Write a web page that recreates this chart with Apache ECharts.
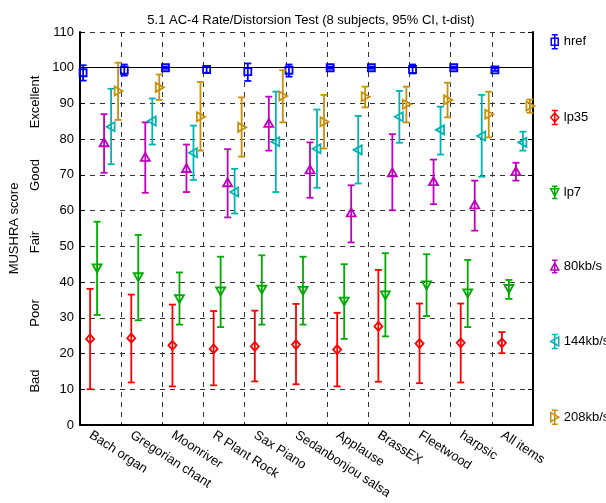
<!DOCTYPE html>
<html>
<head>
<meta charset="utf-8">
<script src="https://cdn.jsdelivr.net/npm/echarts@6/dist/echarts.min.js"></script>
<style>
  html, body { margin: 0; padding: 0; background: #fff; }
  #chart { width: 606px; height: 503px; }
</style>
</head>
<body>
<div id="chart"></div>
<script>
// categories
var categories = ['Bach organ', 'Gregorian chant', 'Moonriver', 'R Plant Rock', 'Sax Piano',
  'Sedanbonjou salsa', 'Applause', 'BrassEX', 'Fleetwood', 'harpsic', 'All items'];
var yTicks = [0, 110, 10];

// mean / lower / upper of the 95% CI per condition
var hrefMean = [98.6, 99.3, 100, 99.5, 98.9, 99.3, 100, 100, 99.5, 100, 99.4];
var hrefLow  = [96.4, 97.8, 99.7, 98.6, 96.3, 97.5, 99.7, 99.7, 98.4, 99.7, 99.1];
var hrefHigh = [100.7, 100.9, 100.3, 100.5, 101.2, 100.9, 100.3, 100.3, 100.9, 100.3, 99.8];

var lp35Mean = [24.1, 24.3, 22.3, 21.3, 22.0, 22.5, 21.1, 27.6, 22.8, 23.0, 23.0];
var lp35Low  = [10.0, 11.9, 10.8, 11.1, 12.2, 11.4, 10.8, 12.1, 11.7, 11.9, 20.1];
var lp35High = [38.1, 36.5, 33.7, 31.9, 32.0, 33.9, 31.4, 43.4, 34.0, 34.0, 26.0];

var lp7Mean = [44.0, 41.5, 35.4, 37.5, 38.0, 37.7, 34.7, 36.4, 39.2, 37.0, 38.2];
var lp7Low  = [30.8, 29.3, 28.1, 27.4, 28.1, 28.1, 24.1, 24.8, 30.5, 27.4, 35.3];
var lp7High = [56.9, 53.2, 42.7, 47.1, 47.5, 47.1, 45.0, 48.1, 47.8, 46.2, 40.6];

var k80Mean = [79.0, 74.9, 71.8, 67.8, 84.4, 71.4, 59.4, 70.6, 68.1, 61.6, 70.9];
var k80Low  = [70.6, 65.0, 65.2, 58.1, 76.8, 63.6, 51.1, 60.1, 61.8, 54.4, 68.4];
var k80High = [87.0, 84.7, 78.5, 77.2, 91.9, 79.1, 67.1, 81.4, 74.3, 68.4, 73.4];

var k144Mean = [83.5, 85.1, 76.2, 65.2, 79.3, 77.3, 77.0, 86.3, 82.6, 80.9, 79.1];
var k144Low  = [73.0, 78.5, 68.6, 59.2, 65.2, 66.4, 67.6, 79.0, 75.7, 69.5, 76.8];
var k144High = [94.1, 91.4, 83.8, 71.7, 93.3, 88.3, 86.5, 93.5, 89.1, 92.4, 82.1];

var k208Mean = [93.5, 94.5, 86.3, 83.3, 92.1, 84.9, 91.9, 89.8, 91.0, 87.0, 89.3];
var k208Low  = [85.4, 91.0, 76.8, 75.1, 84.7, 77.4, 88.9, 84.7, 86.1, 80.5, 87.4];
var k208High = [101.4, 98.1, 96.0, 91.7, 99.3, 92.4, 94.7, 94.7, 95.8, 93.3, 91.1];

var qualityLabels = ['Bad', 'Poor', 'Fair', 'Good', 'Excellent'];

var font = 'Liberation Sans, Arial, sans-serif';
var myChart = echarts.init(document.getElementById('chart'));

// marker outlines, pixel offsets around the mean point
function markerShape(kind, x, y) {
  if (kind === 'square') return { type: 'rect', shape: { x: x - 3.5, y: y - 3.5, width: 7, height: 7 } };
  var p;
  if (kind === 'diamond') p = [[0, -4.5], [4, 0], [0, 4.5], [-4, 0]];
  if (kind === 'down') p = [[-4.5, -3.5], [4.5, -3.5], [0, 4.5]];
  if (kind === 'up') p = [[-4.5, 3.5], [4.5, 3.5], [0, -4.5]];
  if (kind === 'left') p = [[-4.5, 0], [3.5, -4.5], [3.5, 4.5]];
  if (kind === 'right') p = [[4.5, 0], [-3.5, -4.5], [-3.5, 4.5]];
  return { type: 'polygon', shape: { points: p.map(function (q) { return [x + q[0], y + q[1]]; }) } };
}

function buildSeries(name, mean, low, high, color, kind, k) {
  var data = categories.map(function (c, i) { return [i, mean[i], low[i], high[i]]; });
  var offset = (k - 2.5) * 0.17;
  return {
    name: name,
    type: 'custom',
    itemStyle: { color: color },
    encode: { x: 0, y: [1, 2, 3] },
    data: data,
    renderItem: function (params, api) {
      var band = api.size([1, 0])[0];
      var x = api.coord([api.value(0), 0])[0] + offset * band;
      var ym = api.coord([api.value(0), api.value(1)])[1];
      var yl = api.coord([api.value(0), api.value(2)])[1];
      var yh = api.coord([api.value(0), api.value(3)])[1];
      var st = { stroke: color, lineWidth: 1.8, fill: 'none' };
      var m = markerShape(kind, x, ym);
      m.style = st;
      return {
        type: 'group',
        children: [
          { type: 'line', shape: { x1: x, y1: yl, x2: x, y2: yh }, style: st },
          { type: 'line', shape: { x1: x - 3.5, y1: yl, x2: x + 3.5, y2: yl }, style: st },
          { type: 'line', shape: { x1: x - 3.5, y1: yh, x2: x + 3.5, y2: yh }, style: st },
          m
        ]
      };
    }
  };
}

var colors = ['#0000ff', '#ff0000', '#00aa00', '#bf00bf', '#00b4b4', '#c8900a'];
var icons = [
  'path://M5,0L5,14M2,0L8,0M2,14L8,14M1.5,3.5L8.5,3.5L8.5,10.5L1.5,10.5Z',
  'path://M5,0L5,14M2,0L8,0M2,14L8,14M5,2.5L9,7L5,11.5L1,7Z',
  'path://M5,0L5,14M2,0L8,0M2,14L8,14M0.5,3L9.5,3L5,11Z',
  'path://M5,0L5,14M2,0L8,0M2,14L8,14M0.5,11L9.5,11L5,3Z',
  'path://M5,0L5,14M2,0L8,0M2,14L8,14M1,7L9,2.5L9,11.5Z',
  'path://M5,0L5,14M2,0L8,0M2,14L8,14M9,7L1,2.5L1,11.5Z'
];
var names = ['href', 'lp35', 'lp7', '80kb/s', '144kb/s', '208kb/s'];

var series = [
  buildSeries('href', hrefMean, hrefLow, hrefHigh, colors[0], 'square', 0),
  buildSeries('lp35', lp35Mean, lp35Low, lp35High, colors[1], 'diamond', 1),
  buildSeries('lp7', lp7Mean, lp7Low, lp7High, colors[2], 'down', 2),
  buildSeries('80kb/s', k80Mean, k80Low, k80High, colors[3], 'up', 3),
  buildSeries('144kb/s', k144Mean, k144Low, k144High, colors[4], 'left', 4),
  buildSeries('208kb/s', k208Mean, k208Low, k208High, colors[5], 'right', 5)
];
// solid reference line at 100
series[0].markLine = {
  silent: true, symbol: 'none', label: { show: false },
  lineStyle: { color: '#000', type: 'solid', width: 1 },
  data: [{ yAxis: 100 }]
};

var dashed = { color: '#333', type: [5, 5], width: 1 };

// quality words next to the score axis
var qualityY = [381, 313, 242, 175, 102];
var graphics = qualityLabels.map(function (t, i) {
  return {
    type: 'text', x: 35, y: qualityY[i], rotation: Math.PI / 2,
    style: { text: t, font: '13px ' + font, fill: '#000', align: 'center', verticalAlign: 'middle' }
  };
});

this.option = {
  animation: false,
  textStyle: { fontFamily: font },
  title: {
    text: '5.1 AC-4 Rate/Distorsion Test (8 subjects, 95% CI, t-dist)',
    left: 306, top: 9, textAlign: 'center',
    textStyle: { fontSize: 13, fontWeight: 'normal', color: '#000', fontFamily: font }
  },
  legend: {
    orient: 'vertical', left: 545, top: 29,
    itemWidth: 8, itemHeight: 14, itemGap: 60.2,
    textStyle: { fontSize: 13, color: '#000', fontFamily: font },
    data: names.map(function (n, i) {
      return { name: n, icon: icons[i], itemStyle: { color: 'rgba(0,0,0,0)', borderColor: colors[i], borderWidth: 1.5 } };
    })
  },
  grid: { left: 80, right: 73, top: 32, bottom: 78 },
  xAxis: [
    {
      type: 'category', data: categories, position: 'bottom',
      axisLine: { lineStyle: { color: '#000', width: 2 } },
      axisTick: { inside: true, length: 5, lineStyle: { color: '#000' } },
      splitLine: { show: true, lineStyle: dashed },
      axisLabel: {
        rotate: -33, fontSize: 13, color: '#000', margin: 8, interval: 0, fontFamily: font,
        verticalAlign: 'top', padding: [0, 0, 0, -8]
      }
    },
    {
      type: 'category', data: categories, position: 'top',
      axisLine: { lineStyle: { color: '#000', width: 2 } },
      axisTick: { inside: true, length: 5, lineStyle: { color: '#000' } },
      axisLabel: { show: false }
    }
  ],
  yAxis: [
    {
      type: 'value', min: yTicks[0], max: yTicks[1], interval: yTicks[2],
      name: 'MUSHRA score', nameLocation: 'middle', nameGap: 59,
      nameTextStyle: { fontSize: 13, color: '#000', fontFamily: font },
      axisLine: { show: true, lineStyle: { color: '#000', width: 2 } },
      axisTick: { show: true, inside: true, length: 5, lineStyle: { color: '#000' } },
      splitLine: { show: true, lineStyle: dashed },
      axisLabel: { fontSize: 13, color: '#000', margin: 6, fontFamily: font }
    },
    {
      type: 'value', min: yTicks[0], max: yTicks[1], interval: yTicks[2], position: 'right',
      axisLine: { show: true, lineStyle: { color: '#000', width: 2 } },
      axisTick: { show: true, inside: true, length: 5, lineStyle: { color: '#000' } },
      splitLine: { show: false },
      axisLabel: { show: false }
    }
  ],
  graphic: graphics,
  series: series
};

myChart.setOption(this.option);
</script>
</body>
</html>
